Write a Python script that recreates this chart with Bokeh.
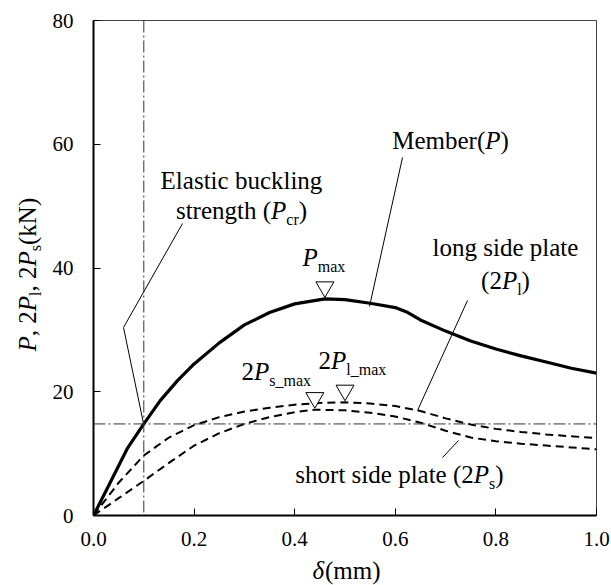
import math
from bokeh.plotting import figure
from bokeh.models import Range1d, FixedTicker, Span, Label
from bokeh.layouts import column, row
from bokeh.embed import file_html
from bokeh.resources import INLINE

# ---------------- data ----------------
x_ticks = [0.0, 0.2, 0.4, 0.6, 0.8, 1.0]
x_tick_labels = ["0.0", "0.2", "0.4", "0.6", "0.8", "1.0"]
y_ticks = [0, 20, 40, 60, 80]
y_tick_labels = ["0", "20", "40", "60", "80"]

member_x = [0.0, 0.03, 0.067, 0.1, 0.133, 0.167, 0.2, 0.25, 0.3, 0.35, 0.4, 0.46,
            0.5, 0.55, 0.6, 0.625, 0.65, 0.7, 0.75, 0.8, 0.85, 0.9, 0.95, 1.0]
member_p = [0.0, 4.8, 10.8, 14.8, 18.6, 21.8, 24.5, 27.9, 30.8, 32.8, 34.2, 35.0,
            34.9, 34.3, 33.6, 32.8, 31.6, 29.8, 28.2, 26.9, 25.8, 24.8, 23.8, 23.0]

long_x = [0.0, 0.05, 0.1, 0.15, 0.2, 0.25, 0.3, 0.35, 0.4, 0.45, 0.5, 0.55, 0.6,
          0.65, 0.7, 0.75, 0.8, 0.85, 0.9, 0.95, 1.0]
long_2pl = [0.0, 5.3, 9.7, 12.6, 14.6, 15.9, 16.8, 17.4, 17.9, 18.2, 18.3, 18.1, 17.7,
            16.9, 15.7, 14.7, 14.0, 13.5, 13.1, 12.8, 12.5]

short_x = [0.0, 0.05, 0.1, 0.15, 0.2, 0.25, 0.3, 0.35, 0.4, 0.44, 0.5, 0.55, 0.6,
           0.65, 0.7, 0.75, 0.8, 0.85, 0.9, 0.95, 1.0]
short_2ps = [0.0, 2.8, 5.6, 8.5, 11.3, 13.3, 14.8, 15.9, 16.7, 17.1, 17.0, 16.6, 16.0,
             15.0, 13.7, 12.6, 12.0, 11.6, 11.3, 11.0, 10.7]

p_cr = 14.8
delta_cr = 0.1

# ---------------- layout (page pixels) ----------------
W, H = 611, 585
YLAB_W = 45          # strip holding the rotated y-axis title
XLAB_H = 30          # strip holding the x-axis title
MAIN_W, MAIN_H = W - YLAB_W, H - XLAB_H
FL, FR, FT, FB = 93, 596, 20, 515   # frame edges on the page
FONT = "Liberation Serif"
BASE = 25
SUB = 16
DROP = 6
BASELINE_FIX = 0.34   # rendered alphabetic baseline sits this many em lower

p = figure(width=MAIN_W, height=MAIN_H, output_backend="svg", toolbar_location=None,
           title=None, x_range=Range1d(0, 1.0), y_range=Range1d(0, 80),
           min_border_left=FL - YLAB_W, min_border_right=W - FR,
           min_border_top=FT, min_border_bottom=MAIN_H - FB)
p.background_fill_color = "white"
p.border_fill_color = "white"
p.outline_line_color = "#444444"
p.outline_line_width = 1
p.xgrid.visible = False
p.ygrid.visible = False

for ax, ticks, labels in ((p.xaxis, x_ticks, x_tick_labels), (p.yaxis, y_ticks, y_tick_labels)):
    ax.ticker = FixedTicker(ticks=ticks)
    ax.major_label_overrides = {t: l for t, l in zip(ticks, labels)}
    ax.major_tick_in = 7
    ax.major_tick_out = 0
    ax.minor_tick_in = 0
    ax.minor_tick_out = 0
    ax.axis_line_width = 2
    ax.axis_line_color = "black"
    ax.major_tick_line_color = "black"
    ax.major_label_text_font = FONT
    ax.major_label_text_font_size = "21px"
    ax.major_label_text_color = "black"
p.yaxis.major_label_standoff = 20
p.xaxis.major_label_standoff = 16


def X(px):
    return (px - FL) / (FR - FL) * 1.0


def Y(py):
    return (FB - py) / (FB - FT) * 80.0


# reference lines
p.add_layout(Span(location=p_cr, dimension="width", line_color="#333333",
                  line_width=1, line_dash="12 3 2 3"))
p.add_layout(Span(location=delta_cr, dimension="height", line_color="#333333",
                  line_width=1, line_dash="12 3 2 3"))

# curves
p.line(long_x, long_2pl, line_color="black", line_width=2, line_dash="8 5")
p.line(short_x, short_2ps, line_color="black", line_width=2, line_dash="8 5")
p.line(member_x, member_p, line_color="black", line_width=3.2)

# maximum markers (inverted triangles with apex on the curve)
tri = 18
apex = (tri * math.sqrt(3) / 2) * 2 / 3 + 1.5
for xs, ys in ((member_x, member_p), (long_x, long_2pl), (short_x, short_2ps)):
    i = ys.index(max(ys))
    p.scatter([xs[i]], [ys[i] + apex * 80.0 / (FB - FT)], marker="inverted_triangle",
              size=tri, fill_color="white", line_color="black", line_width=1)

# leader lines
leaders = [
    [(182, 223), (123, 327), (143, 423)],
    [(402, 157), (369, 306)],
    [(467, 300), (417, 410)],
    [(442, 457), (458, 440)],
]
for pts in leaders:
    p.line([X(a) for a, b in pts], [Y(b) for a, b in pts], line_color="black", line_width=1)


# ---------------- strips for the axis titles (ranges in page pixels) ----------------
def strip(w, h, xr, yr, bl, br, bt, bb):
    f = figure(width=w, height=h, output_backend="svg", toolbar_location=None, title=None,
               x_range=Range1d(*xr), y_range=Range1d(*yr),
               x_axis_type=None, y_axis_type=None,
               min_border_left=bl, min_border_right=br, min_border_top=bt, min_border_bottom=bb)
    f.outline_line_color = None
    f.xgrid.visible = False
    f.ygrid.visible = False
    f.background_fill_color = "white"
    f.border_fill_color = "white"
    return f


yfig = strip(YLAB_W, MAIN_H, (0, YLAB_W), (FB, FT), 0, 0, FT, MAIN_H - FB)
xfig = strip(W, XLAB_H, (FL, FR), (H, MAIN_H), FL, W - FR, 0, 0)

# ---------------- rich text helper ----------------
TW = {' ': 250, '(': 333, ')': 333, ',': 250, '.': 250, '_': 500, '2': 500,
      'E': 611, 'M': 889, 'N': 722, 'a': 444, 'b': 500, 'c': 444, 'd': 500, 'e': 444,
      'g': 500, 'h': 500, 'i': 278, 'k': 500, 'l': 278, 'm': 778, 'n': 500, 'o': 500,
      'p': 500, 'r': 333, 's': 389, 't': 278, 'u': 500, 'x': 500}


def width(t, st):
    sz = SUB if st == 's' else BASE
    if st == 'i':
        return sum(611 if c == 'P' else 500 for c in t) / 1000 * sz
    return sum(TW.get(c, 500) for c in t) / 1000 * sz


def to_main(px, py):
    return X(px), Y(py)


def to_page(px, py):
    return px, py


def rich(fig, conv, runs, xp, yp, align="left", rotated=False, drop_px=DROP):
    ws = [width(t, st) for t, st in runs]
    total = sum(ws)
    off = -total / 2 if align == "center" else 0
    for (t, st), w in zip(runs, ws):
        sz = SUB if st == 's' else BASE
        drop = (drop_px if st == 's' else 0) - BASELINE_FIX * sz
        if rotated:
            lx, ly, ang = xp + drop, yp - off, math.pi / 2
        else:
            lx, ly, ang = xp + off, yp + drop, 0
        dx, dy = conv(lx, ly)
        fig.add_layout(Label(x=dx, y=dy, text=t, angle=ang, text_font=FONT,
                             text_font_size=f"{sz}px",
                             text_font_style="italic" if st == 'i' else "normal",
                             text_color="black", text_baseline="alphabetic",
                             text_align="left"))
        off += w


rich(p, to_main, [("Elastic buckling", 'n')], 241, 188, "center")
rich(p, to_main, [("strength (", 'n'), ("P", 'i'), ("cr", 's'), (")", 'n')], 241, 218, "center")
rich(p, to_main, [("Member(", 'n'), ("P", 'i'), (")", 'n')], 450, 148, "center")
rich(p, to_main, [("P", 'i'), ("max", 's')], 302, 265)
rich(p, to_main, [("long side plate", 'n')], 505, 255, "center")
rich(p, to_main, [("(2", 'n'), ("P", 'i'), ("l", 's'), (")", 'n')], 505, 288, "center")
rich(p, to_main, [("2", 'n'), ("P", 'i'), ("s_max", 's')], 241, 379)
rich(p, to_main, [("2", 'n'), ("P", 'i'), ("l_max", 's')], 318, 368)
rich(p, to_main, [("short side plate (2", 'n'), ("P", 'i'), ("s", 's'), (")", 'n')],
     399, 482, "center")
rich(xfig, to_page, [("δ", 'i'), ("(mm)", 'n')], 346, 578, "center")
rich(yfig, to_page, [("P", 'i'), (", 2", 'n'), ("P", 'i'), ("l", 's'), (", 2", 'n'), ("P", 'i'),
                     ("s", 's'), (" (kN)", 'n')], 35, 271, "center", rotated=True, drop_px=5)

layout = column(row(yfig, p, spacing=0), xfig, spacing=0)
open("out.html", "w").write(file_html(layout, INLINE))
